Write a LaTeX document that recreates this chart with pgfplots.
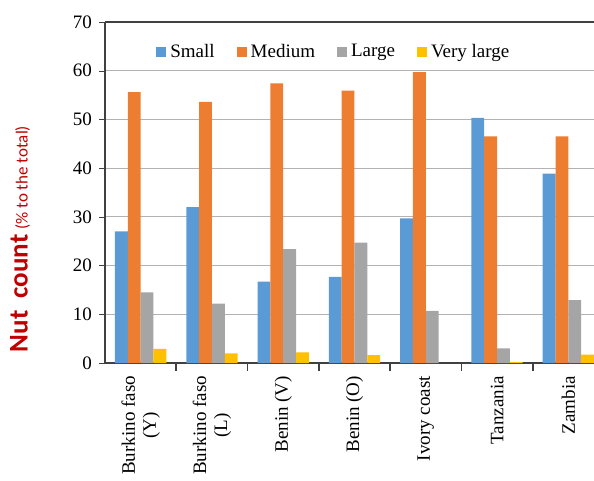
\documentclass[border=0pt]{standalone}
\usepackage{fontspec}
\setmainfont{Liberation Serif}
\newfontfamily\labelfont{Carlito}
\usepackage{pgfplots}
\pgfplotsset{compat=1.18}
\definecolor{cSmall}{HTML}{5B9BD5}
\definecolor{cMedium}{HTML}{ED7D31}
\definecolor{cLarge}{HTML}{A5A5A5}
\definecolor{cVLarge}{HTML}{FFC000}
\definecolor{titlered}{HTML}{C00000}
\begin{document}
\begin{tikzpicture}
\path[use as bounding box] (-52.5pt,-59pt) rectangle (244.5pt,181.5pt);
\begin{axis}[
  at={(0pt,0pt)}, anchor=south west,
  scale only axis, width=244.5pt, height=170.5pt,
  xmin=-0.5, xmax=6.36, ymin=0, ymax=70,
  ybar=0pt, bar width=0.18,
  axis x line*=box, axis y line*=left,
  axis line style={black!75, line width=0.8pt},
  xtick pos=left, ytick pos=left,
  ytick={0,10,...,70},
  ymajorgrids, grid style={black!30, line width=0.6pt},
  ytick style={black!75}, tick align=outside, major tick length=3pt,
  xtick={0,...,6}, xtick style={draw=none},
  xticklabels={{Burkino faso\\(Y)},{Burkino faso\\(L)},Benin (V),Benin (O),Ivory coast,Tanzania,Zambia},
  xticklabel style={rotate=90, anchor=east, align=center, font=\fontsize{9.5}{10.5}\selectfont},
  yticklabel style={font=\fontsize{9.5}{11}\selectfont},
  /pgf/number format/assume math mode=true,
  extra x ticks={0.5,1.5,2.5,3.5,4.5,5.5},
  extra x tick labels={},
  extra x tick style={xtick style={draw=black!75, line width=0.8pt}, major tick length=4pt, tick align=outside, xtick pos=left},
  legend style={at={(0.47,0.912)}, anchor=center, draw=none, fill=none,
    legend columns=-1, font=\fontsize{9.5}{11}\selectfont,
    /tikz/every even column/.append style={column sep=9pt}},
  legend image code/.code={\fill[#1] (0pt,-2.5pt) rectangle (5pt,2.5pt);},
]
\addplot[draw=none, fill=cSmall] coordinates {(0,27.0) (1,32.0) (2,16.7) (3,17.7) (4,29.7) (5,50.3) (6,38.9)};
\addplot[draw=none, fill=cMedium] coordinates {(0,55.6) (1,53.6) (2,57.4) (3,55.9) (4,59.7) (5,46.5) (6,46.5)};
\addplot[draw=none, fill=cLarge] coordinates {(0,14.5) (1,12.2) (2,23.4) (3,24.7) (4,10.7) (5,3.0) (6,12.9)};
% no very large nuts recorded for Ivory coast
\addplot[draw=none, fill=cVLarge] coordinates {(0,2.9) (1,2.0) (2,2.2) (3,1.6) (5,0.2) (6,1.7)};
\legend{Small, Medium, Large, Very large}
\end{axis}
\node[rotate=90, text=titlered, inner sep=0pt] at (-42.5pt,62pt)
  {{\labelfont\bfseries\fontsize{13.5}{15}\selectfont Nut\ \ count}\ {\labelfont\fontsize{8.5}{10}\selectfont (\% to the total)}};
\end{tikzpicture}
\end{document}
